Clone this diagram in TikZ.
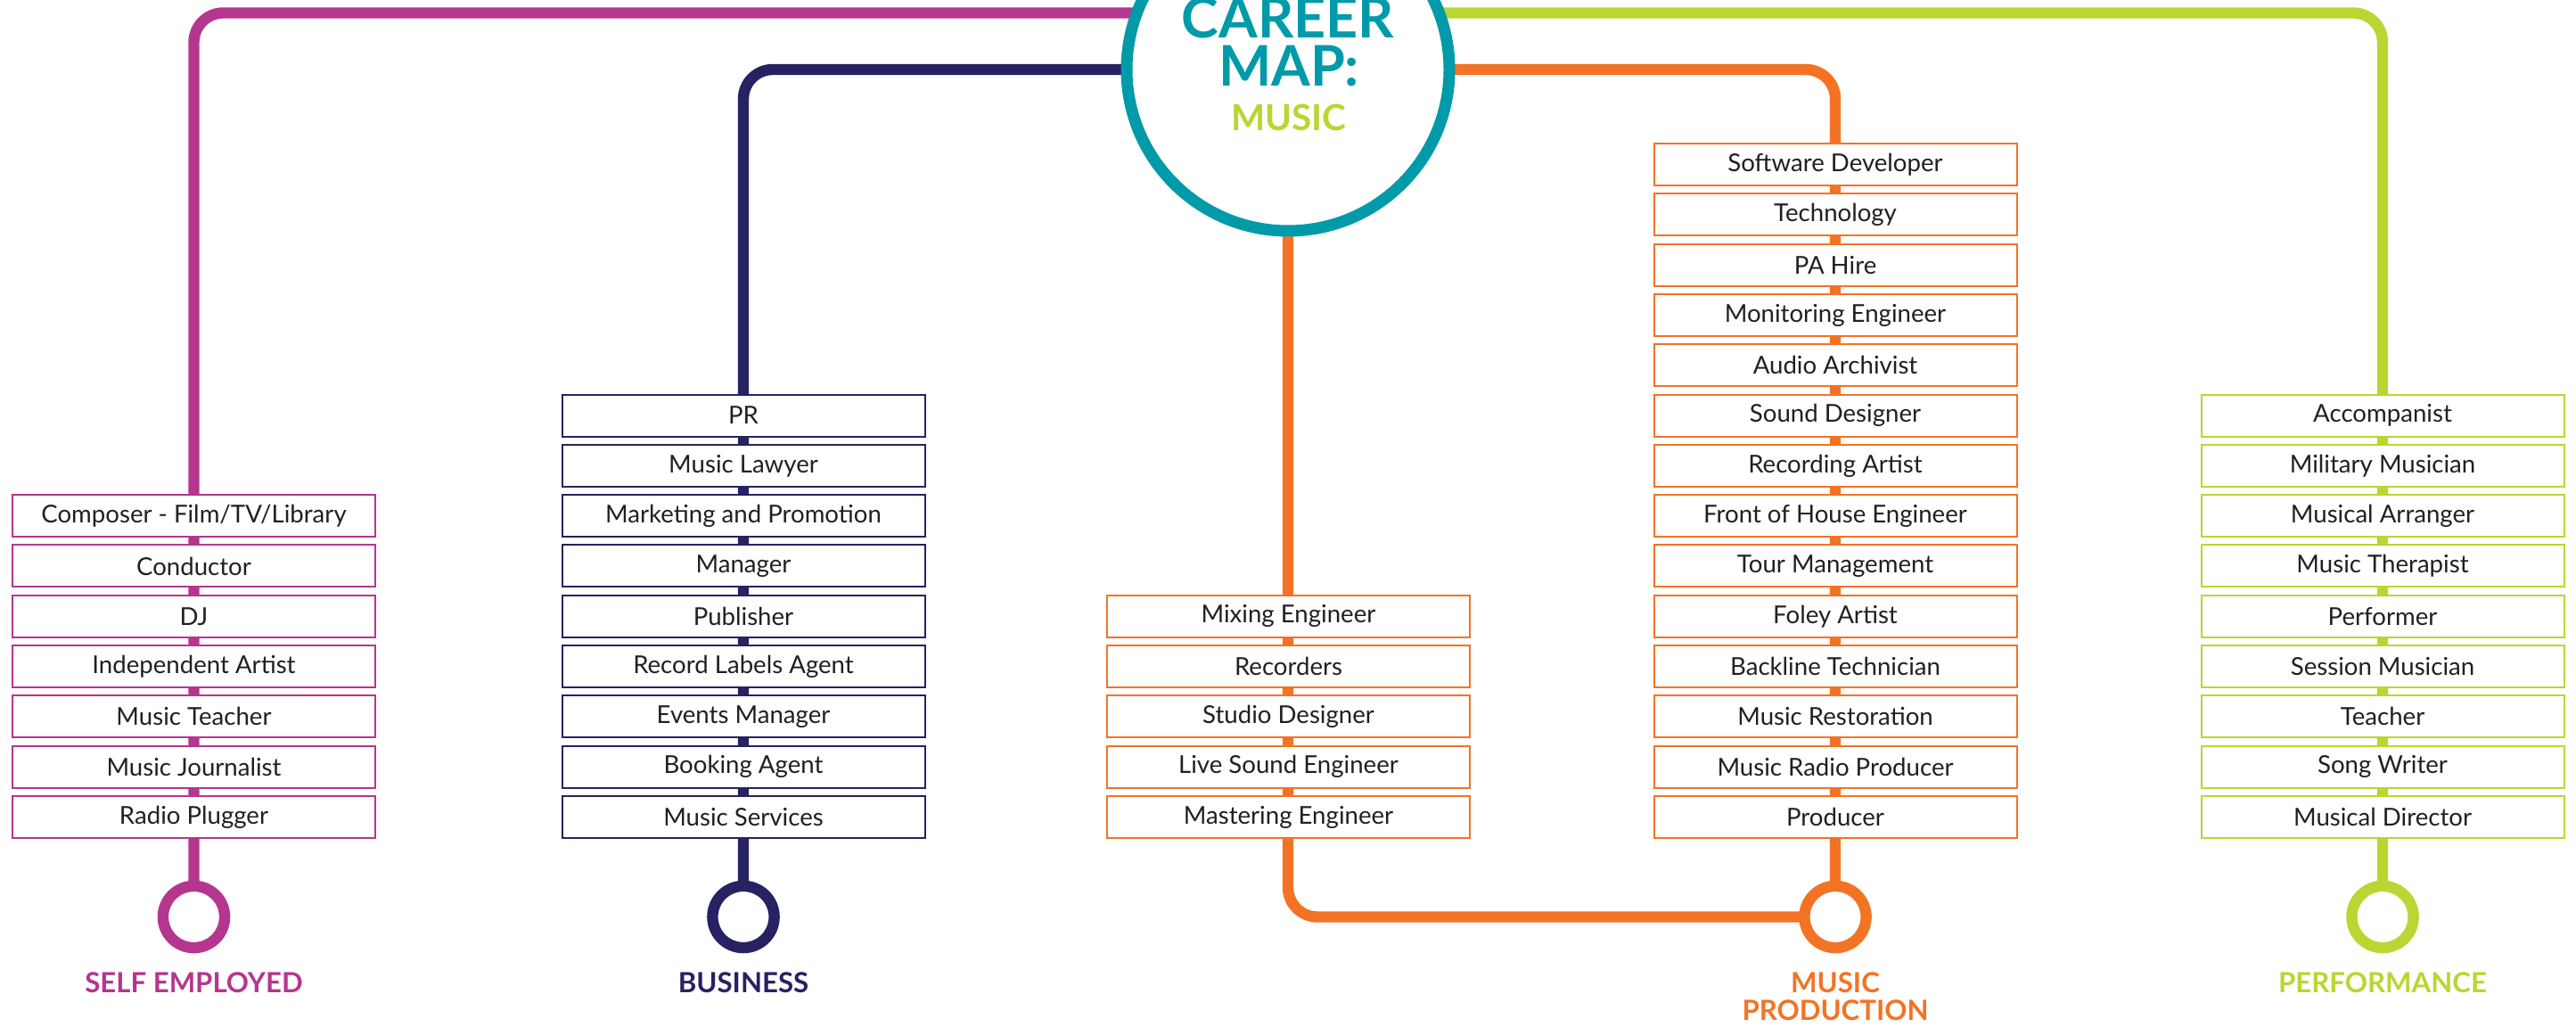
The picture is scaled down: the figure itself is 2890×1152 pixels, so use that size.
\documentclass[tikz,border=0pt]{standalone}
\usepackage{fontspec}
\setmainfont{Lato}
\usetikzlibrary{backgrounds}
\definecolor{cmteal}{HTML}{009AA9}
\definecolor{cmmagenta}{HTML}{B5368F}
\definecolor{cmnavy}{HTML}{272262}
\definecolor{cmorange}{HTML}{F37325}
\definecolor{cmgreen}{HTML}{BBD532}
\definecolor{cmink}{HTML}{231F20}

\begin{document}
\begin{tikzpicture}[x=0.25pt, y=-0.25pt,
    role/.style={draw=#1, line width=0.5pt, fill=white, minimum width=101.75pt,
      minimum height=11.75pt, inner sep=0pt, text=cmink, font=\fontsize{6.9}{8}\selectfont},
    track/.style={draw=#1, line width=3.1pt, rounded corners=8.25pt},
    stop/.style={draw=#1, line width=3.1pt, circle, fill=white, minimum size=17.3pt, inner sep=0pt},
    sector/.style={text=#1, font=\bfseries\fontsize{7.8}{8}\selectfont, anchor=base, inner sep=0pt}]
    \useasboundingbox (0,0) rectangle (2890,1152);
    % hub
    \node[draw=cmteal, line width=3.25pt, circle, fill=white, minimum size=90.5pt, inner sep=0pt] (map) at (1445,78) {};
    \coordinate (top) at (1445,14.5);
    \node[text=cmteal, font=\bfseries\fontsize{15.7}{16}\selectfont, anchor=base, inner sep=0pt] (t-career) at (1445,43) {CAREER};
    \node[text=cmteal, font=\bfseries\fontsize{15.7}{16}\selectfont, anchor=base, inner sep=0pt] (t-map) at (1446,97) {MAP:};
    \node[text=cmgreen, font=\bfseries\fontsize{10.1}{11}\selectfont, anchor=base, inner sep=0pt] (t-music) at (1446,147) {MUSIC};
    % self employed
    \foreach \job [count=\i] in {Composer - Film/TV/Library, Conductor, DJ, Independent Artist,
        Music Teacher, Music Journalist, Radio Plugger}
      \node[role=cmmagenta] (se-\i) at (217.5,{916.5-(7-\i)*56.3}) {\job};
    \node[stop=cmmagenta] (se-stop) at (217.5,1028.5) {};
    \node[sector=cmmagenta] (se-label) at (217.5,1114) {SELF EMPLOYED};
    % business
    \foreach \job [count=\i] in {PR, Music Lawyer, Marketing and Promotion, Manager, Publisher,
        Record Labels Agent, Events Manager, Booking Agent, Music Services}
      \node[role=cmnavy] (bu-\i) at (834,{916.5-(9-\i)*56.3}) {\job};
    \node[stop=cmnavy] (bu-stop) at (834,1028.5) {};
    \node[sector=cmnavy] (bu-label) at (834,1114) {BUSINESS};
    % music production, studio
    \foreach \job [count=\i] in {Mixing Engineer, Recorders, Studio Designer, Live Sound Engineer,
        Mastering Engineer}
      \node[role=cmorange] (mx-\i) at (1445.5,{916.5-(5-\i)*56.3}) {\job};
    % music production
    \foreach \job [count=\i] in {Software Developer, Technology, PA Hire, Monitoring Engineer,
        Audio Archivist, Sound Designer, Recording Artist, Front of House Engineer, Tour Management,
        Foley Artist, Backline Technician, Music Restoration, Music Radio Producer, Producer}
      \node[role=cmorange] (mp-\i) at (2059,{916.5-(14-\i)*56.3}) {\job};
    \node[stop=cmorange] (mp-stop) at (2059,1028.5) {};
    \node[sector=cmorange] (mp-label) at (2059,1114) {MUSIC};
    \node[sector=cmorange] (mp-label2) at (2059,1145) {PRODUCTION};
    % performance
    \foreach \job [count=\i] in {Accompanist, Military Musician, Musical Arranger, Music Therapist,
        Performer, Session Musician, Teacher, Song Writer, Musical Director}
      \node[role=cmgreen] (pf-\i) at (2673,{916.5-(9-\i)*56.3}) {\job};
    \node[stop=cmgreen] (pf-stop) at (2673,1028.5) {};
    \node[sector=cmgreen] (pf-label) at (2673,1114) {PERFORMANCE};
    % tracks behind everything
    \begin{scope}[on background layer]
      \draw[track=cmmagenta] (top) -| (se-stop.center);
      \draw[track=cmgreen] (top) -| (pf-stop.center);
      \draw[track=cmnavy] (map.center) -| (bu-stop.center);
      \draw[track=cmorange] (map.center) -| (mp-stop.center);
      \draw[track=cmorange] (map.center) |- (mp-stop.center);
    \end{scope}
  \end{tikzpicture}
\end{document}
